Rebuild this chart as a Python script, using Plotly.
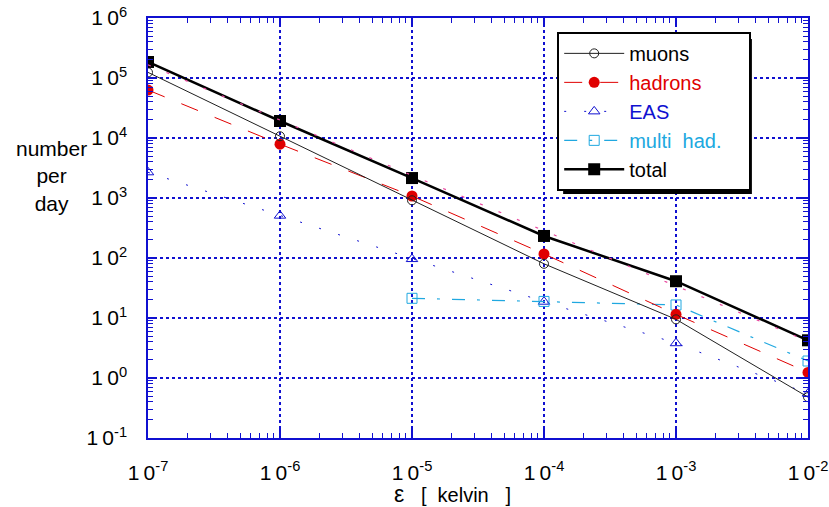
import plotly.graph_objects as go

eps = [1e-7, 1e-6, 1e-5, 1e-4, 1e-3, 1e-2]
muons = [1.24e5, 1.07e4, 915, 80, 9.5, 0.48]
hadrons = [6.3e4, 7.9e3, 1080, 117, 11.5, 1.24]
eas = [2680, 508, 96, 18.7, 3.8, 0.55]
multi_eps = [1e-5, 1e-4, 1e-3, 1e-2]
multi_had = [21.3, 18.9, 16.5, 1.92]
total = [1.85e5, 1.92e4, 2150, 233, 41, 4.25]
fit_eps = [1e-7, 1e-2]
fit_vals = [1.66e5, 4.09]

TS = "\u2009"
NB = "\u00a0"
xtick_vals = [1e-7, 1e-6, 1e-5, 1e-4, 1e-3, 1e-2]
xtick_text = [f"1{TS}0<sup>-7</sup>", f"1{TS}0<sup>-6</sup>", f"1{TS}0<sup>-5</sup>",
              f"1{TS}0<sup>-4</sup>", f"1{TS}0<sup>-3</sup>", f"1{TS}0<sup>-2</sup>"]
ytick_vals = [1e-1, 1e0, 1e1, 1e2, 1e3, 1e4, 1e5, 1e6]
ytick_text = [f"1{TS}0<sup>-1</sup>", f"1{TS}0<sup>0</sup>", f"1{TS}0<sup>1</sup>", f"1{TS}0<sup>2</sup>",
              f"1{TS}0<sup>3</sup>", f"1{TS}0<sup>4</sup>", f"1{TS}0<sup>5</sup>", f"1{TS}0<sup>6</sup>"]

RED = "#e00000"
BLUE = "#1010d0"
CYAN = "#20a8e0"
PINK = "#e8489e"
GRID = "#1010d0"
FONT = "Arial, Liberation Sans, sans-serif"

fig = go.Figure()

fig.add_trace(go.Scatter(
    x=eps, y=eas, mode="lines+markers",
    name=f"<span style='color:{BLUE}'>EAS</span>",
    line=dict(color=BLUE, width=1, dash="2px,18px"),
    marker=dict(symbol="triangle-up-open", size=10, color=BLUE, line=dict(width=1, color=BLUE)),
    legendrank=3))

fig.add_trace(go.Scatter(
    x=multi_eps, y=multi_had, mode="lines+markers",
    name=f"<span style='color:{CYAN}'>multi{NB}{NB}had.</span>{NB}{NB}{NB}{NB}",
    line=dict(color=CYAN, width=1.2, dash="13px,12px,3px,12px"),
    marker=dict(symbol="square-open", size=10, color=CYAN, line=dict(width=1, color=CYAN)),
    legendrank=4))

fig.add_trace(go.Scatter(
    x=eps, y=hadrons, mode="lines+markers",
    name=f"<span style='color:{RED}'>hadrons</span>",
    line=dict(color=RED, width=1, dash="18px,18px"),
    marker=dict(symbol="circle", size=11, color=RED),
    legendrank=2))

fig.add_trace(go.Scatter(
    x=eps, y=muons, mode="lines+markers",
    name="muons",
    line=dict(color="#202020", width=1),
    marker=dict(symbol="circle-open", size=9, color="#202020", line=dict(width=1, color="#202020")),
    legendrank=1))

fig.add_trace(go.Scatter(
    x=eps, y=total, mode="lines+markers",
    name="total",
    line=dict(color="black", width=2.5),
    marker=dict(symbol="square", size=12, color="black"),
    legendrank=5))

fig.add_trace(go.Scatter(
    x=fit_eps, y=fit_vals, mode="lines", showlegend=False,
    line=dict(color=PINK, width=1.2, dash="3px,17px")))

axis_common = dict(
    type="log",
    automargin=False,
    showline=True, linecolor=GRID, linewidth=1.5,
    mirror="allticks",
    ticks="inside", ticklen=9, tickcolor=GRID, tickwidth=1.5,
    showgrid=True, gridcolor=GRID, gridwidth=1.5, griddash="dot",
    zeroline=False,
    ticklabeloverflow="allow",
    tickfont=dict(family=FONT, size=21, color="black"),
    minor=dict(ticks="inside", ticklen=5, tickcolor=GRID, tickwidth=1, dtick="D1", showgrid=False),
)

fig.update_xaxes(
    **axis_common,
    range=[-7, -2],
    tickvals=xtick_vals, ticktext=xtick_text,
    ticklabelstandoff=15,
)
fig.update_yaxes(
    **axis_common,
    range=[-1, 6],
    tickvals=ytick_vals, ticktext=ytick_text,
    ticklabelstandoff=15,
)

# y-axis title (horizontal, three lines)
fig.add_annotation(
    x=-0.1455, y=0.625, xref="paper", yref="paper", xanchor="center", yanchor="middle",
    text="number<br>per<br>day", showarrow=False,
    font=dict(family=FONT, size=21, color="black"), align="center")

# x-axis title
fig.add_annotation(
    x=0.462, y=-0.134, xref="paper", yref="paper", xanchor="center", yanchor="middle",
    text=f"<span style='font-size:23px'>ε</span>{NB}{NB}{NB}[{NB}{NB}kelvin{NB}{NB}{NB}]",
    showarrow=False,
    font=dict(family=FONT, size=20, color="black"))

# legend drop shadow
fig.add_shape(type="rect", xref="paper", yref="paper",
              x0=0.629, x1=0.915, y0=0.581, y1=0.95,
              fillcolor="black", line=dict(width=0), layer="above")

fig.update_layout(
    width=829, height=507,
    margin=dict(l=148, r=21, t=18, b=69),
    paper_bgcolor="white", plot_bgcolor="white",
    font=dict(family=FONT, size=20, color="black"),
    legend=dict(
        x=0.62, y=0.967, xanchor="left", yanchor="top",
        bgcolor="white", bordercolor="black", borderwidth=2,
        font=dict(family=FONT, size=20, color="black"),
        traceorder="normal", tracegroupgap=0, itemwidth=60,
    ),
    showlegend=True,
)

fig.write_html("out.html",
               config={"displayModeBar": False},
               post_script="document.body.style.margin='0';document.body.style.overflow='hidden';")
